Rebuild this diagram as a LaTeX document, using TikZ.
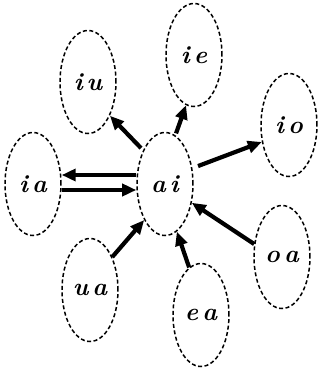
\documentclass[tikz,border=0pt]{standalone}
\usepackage{fontspec}
\usetikzlibrary{shapes.geometric,arrows.meta}
\begin{document}
\begin{tikzpicture}[x=1pt,y=-1pt,
  vow/.style={ellipse,draw,dashed,dash pattern=on 4pt off 2.5pt,line width=1.5pt,inner sep=0pt,
    minimum width=56pt,minimum height=103pt,font=\fontsize{25}{25}\selectfont\bfseries\itshape\addfontfeatures{FakeBold=1.5}},
  arr/.style={line width=4.2pt,-{Triangle[length=14pt,width=12pt]}}]
\useasboundingbox (0,0) rectangle (320,368);
\node[vow] (iu) at (88,82) {i\hspace{4pt}u};
\node[vow] (ie) at (194,55) {i\hspace{4pt}e};
\node[vow] (io) at (289,125) {i\hspace{4pt}o};
\node[vow] (ia) at (33,184) {i\hspace{4pt}a};
\node[vow] (ai) at (165,184) {a\hspace{4pt}i};
\node[vow] (ua) at (90,290) {u\hspace{4pt}a};
\node[vow] (ea) at (201,315) {e\hspace{4pt}a};
\node[vow] (oa) at (282,257) {o\hspace{4pt}a};
\draw[arr] ([yshift=9pt]ai.west) -- ([yshift=9pt]ia.east);
\draw[arr] ([yshift=-6pt]ia.east) -- ([yshift=-6pt]ai.west);
\draw[arr,shorten <=3pt] (ai.123) -- (iu.-57);
\draw[arr,shorten <=2pt] (ai.78) -- (ie.-99);
\draw[arr,shorten <=6pt] (ai.30) -- (io.212);
\draw[arr] (oa.155) -- (ai.-35);
\draw[arr] (ea.104) -- (ai.-76);
\draw[arr] (ua.56) -- (ai.240);
\end{tikzpicture}
\end{document}
